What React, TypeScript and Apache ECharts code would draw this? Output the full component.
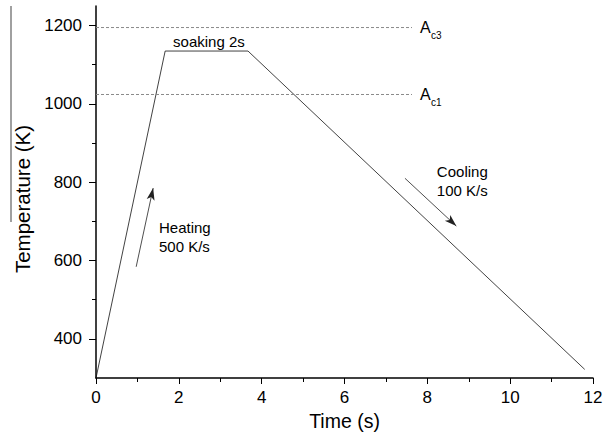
import React, { useEffect, useRef } from 'react';
import * as echarts from 'echarts';

// ---- data ----
const timeS = [0, 1.67, 3.67, 11.8];
const tempK = [300, 1135, 1135, 322];
const ac3Temp = 1195;
const ac1Temp = 1024;
const acLineStart = 0;
const acLineEnd = 7.63;
const yMajorTicks = [400, 600, 800, 1000, 1200];
const yMinorTicks = [500, 700, 900, 1100];
const heatingArrow = [[0.97, 584], [1.38, 785]];
const coolingArrow = [[7.46, 810], [8.7, 688]];
const annotations = [
  { text: 'soaking 2s', t: 1.86, v: 1159 },
  { text: 'Heating\n500 K/s', t: 1.52, v: 660 },
  { text: 'Cooling\n100 K/s', t: 8.23, v: 803 },
];
const acLabels = [
  { main: 'A', sub: 'c3', t: 7.82, v: ac3Temp },
  { main: 'A', sub: 'c1', t: 7.82, v: ac1Temp },
];

const FONT = 'Liberation Sans, Arial, Helvetica, sans-serif';

export default function App() {
  const ref = useRef<HTMLDivElement>(null);
  useEffect(() => {
    if (!ref.current) return;
    const chart = echarts.init(ref.current, null, { renderer: 'svg' });
    const option: any = {
      animation: false,
      textStyle: { fontFamily: FONT },
      grid: { left: 96, right: 20, top: 6, bottom: 65 },
      xAxis: {
        type: 'value',
        min: 0,
        max: 12,
        interval: 2,
        name: 'Time (s)',
        nameLocation: 'middle',
        nameGap: 24,
        nameTextStyle: { fontSize: 19.5, color: '#000', fontFamily: FONT },
        axisLine: { show: true, lineStyle: { color: '#000', width: 1.5 } },
        axisTick: { show: true, length: 6, lineStyle: { color: '#000', width: 1 } },
        minorTick: { show: true, splitNumber: 2, length: 4, lineStyle: { color: '#000', width: 1 } },
        splitLine: { show: false },
        minorSplitLine: { show: false },
        axisLabel: { fontSize: 17, color: '#000', margin: 11, fontFamily: FONT, formatter: (v: number) => String(v) },
      },
      yAxis: [
        {
          type: 'value',
          min: 300,
          max: 1250,
          position: 'left',
          name: 'Temperature (K)',
          nameLocation: 'middle',
          nameGap: 63,
          nameTextStyle: { fontSize: 20.5, color: '#000', fontFamily: FONT, padding: [0, 14, 0, 0] },
          axisLine: { show: true, onZero: false, lineStyle: { color: '#000', width: 1.5 } },
          axisTick: { show: true, length: 7, customValues: yMajorTicks, lineStyle: { color: '#000', width: 1 } },
          axisLabel: {
            customValues: yMajorTicks,
            fontSize: 17,
            color: '#000',
            margin: 14,
            fontFamily: FONT,
            formatter: (v: number) => String(v),
          },
          splitLine: { show: false },
        },
        {
          type: 'value',
          min: 300,
          max: 1250,
          position: 'left',
          axisLine: { show: false },
          axisTick: { show: true, length: 4, customValues: yMinorTicks, lineStyle: { color: '#000', width: 1 } },
          axisLabel: { show: false },
          splitLine: { show: false },
        },
      ],
      series: [
        {
          type: 'line',
          data: timeS.map((t, i) => [t, tempK[i]]),
          showSymbol: false,
          symbol: 'none',
          lineStyle: { color: '#111', width: 0.8 },
          silent: true,
          markLine: {
            silent: true,
            symbol: ['none', 'arrow'],
            symbolSize: [6, 12],
            label: { show: false },
            lineStyle: { color: '#222', width: 0.8, type: 'solid' },
            emphasis: { disabled: true },
            data: [
              [{ coord: heatingArrow[0] }, { coord: heatingArrow[1] }],
              [{ coord: coolingArrow[0] }, { coord: coolingArrow[1] }],
            ],
          },
        },
        {
          type: 'line',
          data: [[acLineStart, ac3Temp], [acLineEnd, ac3Temp]],
          symbol: 'none',
          silent: true,
          lineStyle: { color: '#8a8a8a', width: 1, type: [3, 2] },
        },
        {
          type: 'line',
          data: [[acLineStart, ac1Temp], [acLineEnd, ac1Temp]],
          symbol: 'none',
          silent: true,
          lineStyle: { color: '#8a8a8a', width: 1, type: [3, 2] },
        },
      ],
    };
    chart.setOption(option);

    const graphics: any[] = [
      {
        type: 'line',
        shape: { x1: 11, y1: 6, x2: 11, y2: 222 },
        style: { stroke: '#808080', lineWidth: 1.5 },
        silent: true,
      },
    ];
    annotations.forEach((a) => {
      const p = chart.convertToPixel({ seriesIndex: 0 }, [a.t, a.v]) as number[];
      graphics.push({
        type: 'text',
        x: p[0],
        y: p[1],
        silent: true,
        style: {
          text: a.text,
          fontSize: 15,
          fontFamily: FONT,
          fill: '#000',
          align: 'left',
          verticalAlign: 'middle',
          lineHeight: 19,
        },
      });
    });
    acLabels.forEach((a) => {
      const p = chart.convertToPixel({ seriesIndex: 0 }, [a.t, a.v]) as number[];
      graphics.push({
        type: 'text',
        x: p[0],
        y: p[1],
        silent: true,
        style: { text: a.main, fontSize: 16, fontFamily: FONT, fill: '#000', align: 'left', verticalAlign: 'middle' },
      });
      graphics.push({
        type: 'text',
        x: p[0] + 11,
        y: p[1] + 8,
        silent: true,
        style: { text: a.sub, fontSize: 10, fontFamily: FONT, fill: '#000', align: 'left', verticalAlign: 'middle' },
      });
    });
    chart.setOption({ graphic: graphics });

    return () => chart.dispose();
  }, []);
  return (
    <div
      ref={ref}
      style={{ position: 'fixed', left: 0, top: 0, width: 613, height: 443, background: '#fff' }}
    />
  );
}
